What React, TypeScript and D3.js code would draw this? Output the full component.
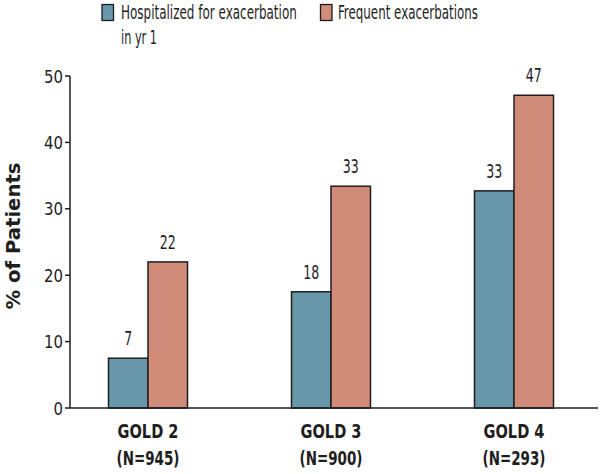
import React, { useLayoutEffect, useRef, useState } from "react";
import * as d3 from "d3";

const categories = ["GOLD 2", "GOLD 3", "GOLD 4"];
const categorySubLabels = ["(N=945)", "(N=900)", "(N=293)"];
const seriesNames = ["Hospitalized for exacerbation", "Frequent exacerbations"];
const hospitalized = [7.5, 17.5, 32.7];
const frequent = [22, 33.4, 47.1];
const hospitalizedLabels = ["7", "18", "33"];
const frequentLabels = ["22", "33", "47"];
const yTicks = [0, 10, 20, 30, 40, 50];

const W = 600;
const H = 474;
const FONT = "'DejaVu Sans Condensed', 'DejaVu Sans', sans-serif";
const BLUE = "#6897ab";
const ORANGE = "#d08c78";
const INK = "#1e1e1e";

type CTProps = {
  x: number;
  y: number;
  size: number;
  len: number;
  anchor?: "start" | "middle" | "end";
  bold?: boolean;
  family?: string;
  rotate?: number;
  children: React.ReactNode;
};

// Text squeezed horizontally to a target width (a condensed look) via a scale transform
function CText({ x, y, size, len, anchor = "start", bold = false, family = FONT, rotate = 0, children }: CTProps) {
  const ref = useRef<SVGTextElement>(null);
  const [sx, setSx] = useState(1);
  useLayoutEffect(() => {
    if (ref.current) {
      const w = ref.current.getComputedTextLength();
      if (w > 0) setSx(len / w);
    }
  }, [len, children]);
  return (
    <g transform={`translate(${x},${y}) rotate(${rotate}) scale(${sx},1)`}>
      <text
        ref={ref}
        x={0}
        y={0}
        fontFamily={family}
        fontSize={size}
        fontWeight={bold ? "bold" : "normal"}
        textAnchor={anchor}
        fill={INK}
      >
        {children}
      </text>
    </g>
  );
}

export default function App() {
  const x0 = 70;
  const x1 = 598;
  const y = d3.scaleLinear().domain([0, 50]).range([408, 76]);
  const x = d3.scalePoint<string>().domain(categories).range([148, 514]);
  const bw = 39.5;

  const series = [
    { vals: hospitalized, labels: hospitalizedLabels, color: BLUE, off: -bw },
    { vals: frequent, labels: frequentLabels, color: ORANGE, off: 0 },
  ];

  return (
    <svg width={W} height={H} style={{ position: "absolute", left: 0, top: 0, background: "#fff" }}>
      {/* legend */}
      <rect x={102} y={4.5} width={11.5} height={16} fill={BLUE} stroke={INK} strokeWidth={1.3} />
      <CText x={121} y={19} size={19} len={176}>{seriesNames[0]}</CText>
      <CText x={121} y={44} size={19} len={36}>in yr 1</CText>
      <rect x={320.5} y={4.5} width={11.5} height={16} fill={ORANGE} stroke={INK} strokeWidth={1.3} />
      <CText x={338} y={19} size={19} len={140}>{seriesNames[1]}</CText>

      {/* y axis title */}
      <CText
        x={20}
        y={236}
        rotate={-90}
        anchor="middle"
        family="'DejaVu Sans', sans-serif"
        bold
        size={19}
        len={147}
      >
        % of Patients
      </CText>

      {/* bars */}
      {series.map((s, si) =>
        categories.map((c, i) => (
          <g key={`${si}-${i}`}>
            <rect
              x={(x(c) as number) + s.off}
              y={y(s.vals[i])}
              width={bw}
              height={y(0) - y(s.vals[i])}
              fill={s.color}
              stroke={INK}
              strokeWidth={1.5}
            />
            <CText
              x={(x(c) as number) + s.off + bw / 2}
              y={y(s.vals[i]) - 13}
              anchor="middle"
              size={19}
              len={8 * s.labels[i].length}
            >
              {s.labels[i]}
            </CText>
          </g>
        ))
      )}

      {/* axes */}
      <line x1={x0} x2={x0} y1={y(50)} y2={y(0)} stroke={INK} strokeWidth={1.5} />
      <line x1={x0} x2={x1} y1={y(0)} y2={y(0)} stroke={INK} strokeWidth={1.5} />
      {yTicks.map((t) => (
        <g key={t}>
          <line x1={x0 - 5} x2={x0} y1={y(t)} y2={y(t)} stroke={INK} strokeWidth={1.5} />
          <CText x={x0 - 7} y={y(t) + 6.5} anchor="end" size={18} len={9.5 * String(t).length}>
            {t}
          </CText>
        </g>
      ))}

      {/* category labels */}
      {categories.map((c, i) => (
        <g key={c}>
          <CText x={x(c) as number} y={438} anchor="middle" size={20} len={61} bold>
            {c}
          </CText>
          <CText x={x(c) as number} y={465} anchor="middle" size={20} len={63} bold>
            {categorySubLabels[i]}
          </CText>
        </g>
      ))}
    </svg>
  );
}
